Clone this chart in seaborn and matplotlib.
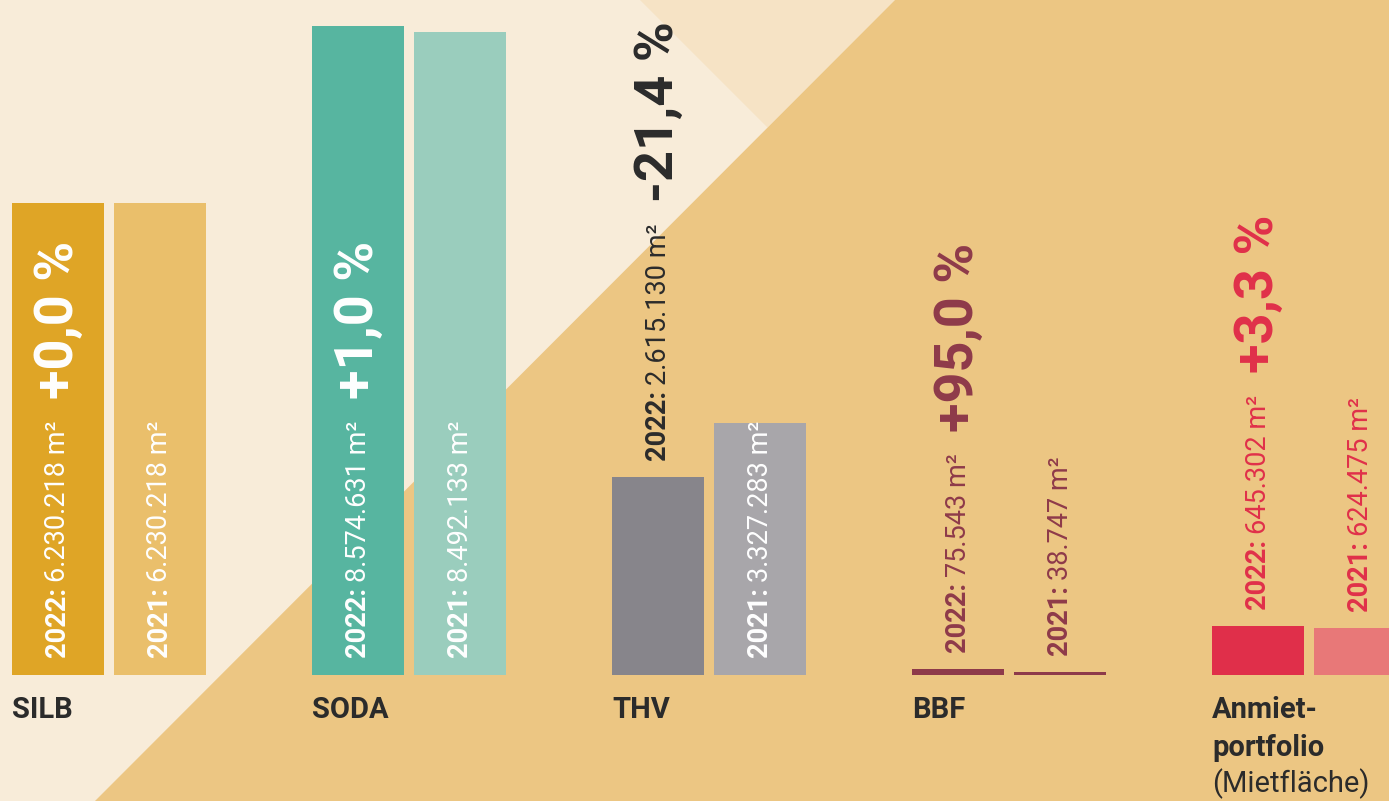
import numpy as np
import pandas as pd
import matplotlib
matplotlib.use('Agg')
import matplotlib.pyplot as plt
import seaborn as sns
from matplotlib.patches import Polygon
from matplotlib.transforms import blended_transform_factory, IdentityTransform

# data (Fläche in m²)
groups = ['SILB', 'SODA', 'THV', 'BBF', 'Anmiet-\nportfolio']
years = ['2022', '2021']
area_2022 = [6230218, 8574631, 2615130, 75543, 645302]
area_2021 = [6230218, 8492133, 3327283, 38747, 624475]
group_note = ['', '', '', '', '(Mietfläche)']

# colours
cream = '#f8ecd9'
cream_mid = '#f6e3c5'
tan = '#ecc683'
bar_2022 = ['#dfa526', '#57b5a0', '#87858b', '#8e3a4a', '#e02f4a']
bar_2021 = ['#eabf6b', '#9acdbd', '#a8a6aa', '#8e3a4a', '#e87878']
text_out = ['#2b2b2b', '#2b2b2b', '#2b2b2b', '#8e3a4a', '#e0304a']
dark = '#2b2b2b'

sns.set_theme(style='white')
plt.rcParams['font.family'] = ['Roboto', 'DejaVu Sans']


def fmt_area(v):
    return f'{v:,}'.replace(',', '.') + ' m²'


def fmt_change(a, b):
    p = (a / b - 1) * 100
    return f'{p:+.1f} %'.replace('.', ',')


df = pd.DataFrame({
    'group': groups * 2,
    'year': [years[0]] * len(groups) + [years[1]] * len(groups),
    'area': area_2022 + area_2021,
})

W, H = 1389, 801
fig = plt.figure(figsize=(W / 100, H / 100), dpi=100, facecolor=cream)

# background shapes
fig.add_artist(Polygon([(640 / W, 1), (895 / W, 1), (767.5 / W, 1 - 127.5 / H)],
                       closed=True, transform=fig.transFigure, facecolor=cream_mid,
                       edgecolor='none', zorder=-2))
fig.add_artist(Polygon([(95 / W, 0), (895 / W, 1), (1, 1), (1, 0)],
                       closed=True, transform=fig.transFigure, facecolor=tan,
                       edgecolor='none', zorder=-1))

ax = fig.add_axes([0, 0, 1, 1])
ax.set_facecolor('none')
sns.barplot(data=df, x='group', y='area', hue='year', order=groups, hue_order=years,
            width=0.68, gap=0.098, errorbar=None, linewidth=0, legend=False, ax=ax)
for bar, c in zip(ax.containers[0], bar_2022):
    bar.set_facecolor(c)
for bar, c in zip(ax.containers[1], bar_2021):
    bar.set_facecolor(c)

px_per_unit = 649 / max(area_2022)
ax.set_xlim(-109 / 300, (W - 109) / 300)
ax.set_ylim(-126 / px_per_unit, 675 / px_per_unit)
ax.axis('off')

renderer = fig.canvas.get_renderer()
trans = blended_transform_factory(ax.transData, IdentityTransform())


def rot_text(x, y, s, **kw):
    t = ax.text(x, y, s, rotation=90, ha='center', va='bottom', transform=trans, **kw)
    return t, t.get_window_extent(renderer).y1


def area_label(bar, year, value, color, pct=None):
    x = bar.get_x() + bar.get_width() / 2
    base = ax.transData.transform((x, 0))[1]
    top = ax.transData.transform((x, bar.get_height()))[1]
    t1, y1 = rot_text(x, base + 18, year + ':', fontsize=19.5, fontweight='bold', color='white')
    t2, y2 = rot_text(x, y1 + 5, fmt_area(value), fontsize=19.5, fontweight='normal', color='white')
    texts = [t1, t2]
    if y2 > top + 4:
        shift = top + 17 - (base + 18)
        for t in texts:
            px, py = t.get_position()
            t.set_position((px, py + shift))
            t.set_color(color)
        y2 += shift
    if pct is not None:
        t3, y3 = rot_text(x, y2 + 22, pct, fontsize=39, fontweight='bold', color='white')
        if y3 > top - 5:
            t3.set_color(color)


for i in range(len(groups)):
    b22 = ax.containers[0][i]
    b21 = ax.containers[1][i]
    area_label(b22, years[0], area_2022[i], text_out[i], fmt_change(area_2022[i], area_2021[i]))
    area_label(b21, years[1], area_2021[i], text_out[i])

    # group names under the bars
    x0 = b22.get_x()
    lines = groups[i].split('\n')
    for k, line in enumerate(lines):
        ax.text(x0, H - 718 - k * 38, line, transform=trans, ha='left', va='baseline',
                fontsize=21, fontweight='bold', color=dark)
    if group_note[i]:
        ax.text(x0, H - 718 - len(lines) * 38 + 2, group_note[i], transform=trans,
                ha='left', va='baseline', fontsize=21, color=dark)

fig.savefig('out.png', dpi=100, facecolor=cream)
